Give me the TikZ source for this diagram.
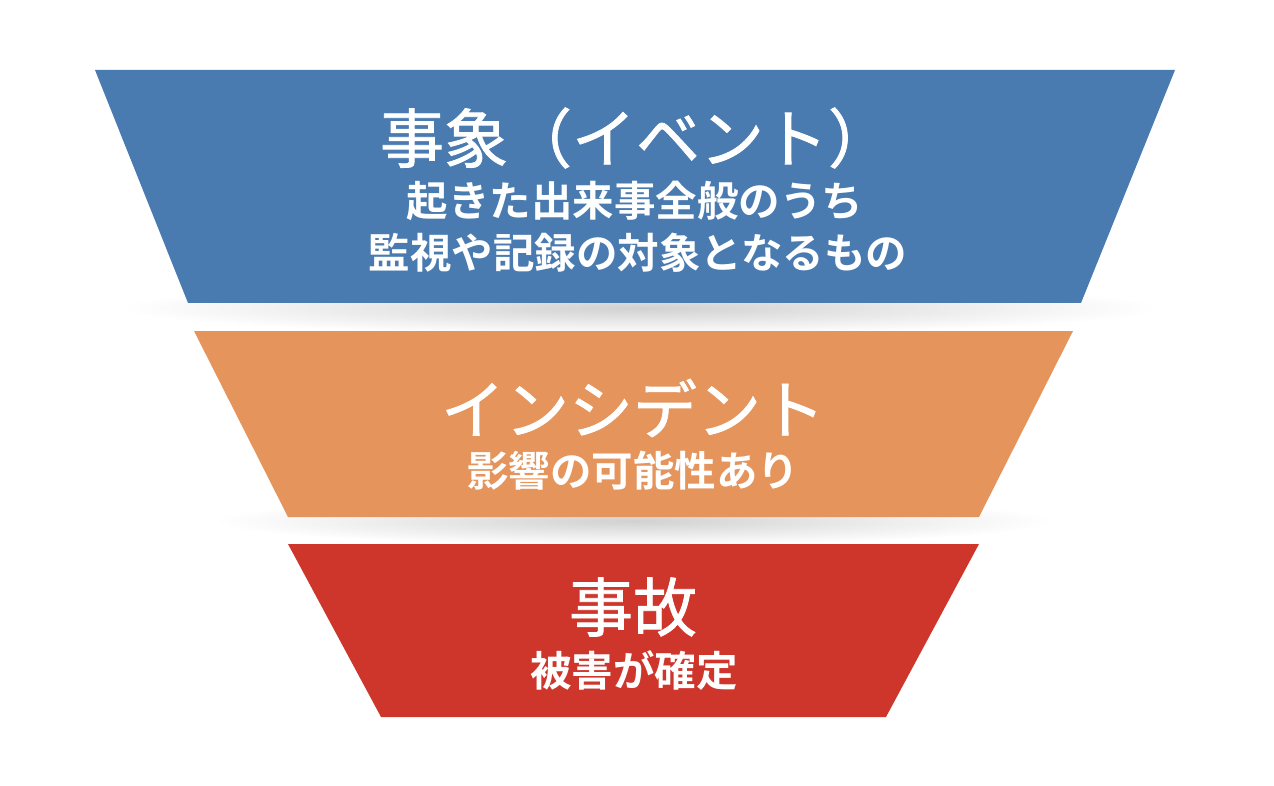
\documentclass[tikz,border=0pt]{standalone}
\usepackage{fontspec}
\newfontfamily\cjk[FakeBold=1.2]{Noto Sans CJK JP}
\newfontfamily\cjkbold{Noto Sans CJK JP Bold}
\definecolor{evblue}{RGB}{73,123,176}
\definecolor{inorange}{RGB}{229,148,92}
\definecolor{acred}{RGB}{206,54,44}
\tikzset{
  tier/.style={draw=none},
  shadowell/.style={inner color=black!18, outer color=white, draw=none},
  titletext/.style={text=white, inner sep=0pt, font=\cjk\fontsize{64}{64}\selectfont},
  subtext/.style={text=white, inner sep=0pt, font=\cjkbold\fontsize{41.5}{41.5}\selectfont},
}
\begin{document}
\begin{tikzpicture}[x=1pt,y=-1pt]
\useasboundingbox (0,0) rectangle (1274,786);
% shadows
\shade[shadowell] (640,308) ellipse [x radius=520, y radius=26];
\shade[shadowell] (634,521) ellipse [x radius=420, y radius=24];
% tiers
\fill[tier, evblue] (95,70) -- (1175,70) -- (1081,303) -- (188,303) -- cycle;
\fill[tier, inorange] (194,331) -- (1073,331) -- (979,517) -- (288,517) -- cycle;
\fill[tier, acred] (288,544) -- (979,544) -- (886,717) -- (381,717) -- cycle;
% texts
\node[titletext] (t1) at (636,138) {事象（イベント）};
\node[subtext] (s1a) at (635,201) {起きた出来事全般のうち};
\node[subtext] (s1b) at (638,253) {監視や記録の対象となるもの};
\node[titletext] (t2) at (633,408) {インシデント};
\node[subtext] (s2) at (633,471) {影響の可能性あり};
\node[titletext] (t3) at (633,607) {事故};
\node[subtext] (s3) at (634,671) {被害が確定};
\end{tikzpicture}
\end{document}
